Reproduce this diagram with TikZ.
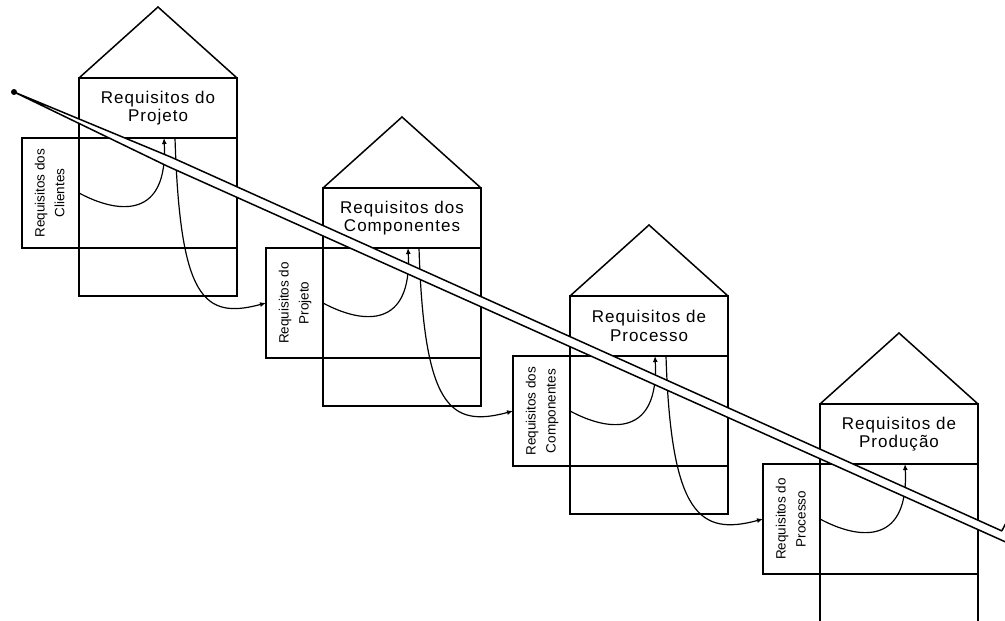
\documentclass[tikz,border=0pt]{standalone}
\usepackage{fontspec}
\setmainfont{Liberation Sans}
\newfontfamily\titlefont{Liberation Sans}[LetterSpace=6]
\usetikzlibrary{arrows.meta}

\tikzstyle{titlebox} = [draw, line width=1.5pt, minimum width=158pt, minimum height=60pt, inner sep=0pt, outer sep=0pt, align=center, font=\titlefont\fontsize{17}{18.5}\selectfont]
\tikzstyle{sidebox} = [draw, line width=1.5pt, fill=white, minimum width=57pt, minimum height=110pt, inner sep=0pt, outer sep=0pt, font=\fontsize{13.5}{20}\selectfont]
\tikzstyle{wall} = [line width=1.5pt, line join=miter]
\tikzstyle{flow} = [line width=1.2pt, -{Latex[length=6pt,width=5pt]}]
\tikzstyle{band} = [draw=black, fill=white, line width=1.5pt, line join=round]

\newcommand{\sidetext}[2]{\rotatebox{90}{\begin{tabular}{@{}c@{}}#1\\#2\end{tabular}}}

\begin{document}
\begin{tikzpicture}[x=1pt,y=-1pt]
      \useasboundingbox (0,0) rectangle (1005,621);
      \clip (0,0) rectangle (1005,621);
      % casa 1
      \node[titlebox] (t1) at (158,108) {Requisitos do\\Projeto};
      \node[sidebox] (s1) at (50.5,193) {\sidetext{Requisitos dos}{Clientes}};
      \draw[wall] (t1.south west) rectangle ++(158,158);
      \draw[wall] (s1.south east) -- ++(158,0);
      \draw[wall] (t1.north west) -- ++(79,-71) -- (t1.north east);
      % casa 2
      \node[titlebox] (t2) at (402,218) {Requisitos dos\\Componentes};
      \node[sidebox] (s2) at (294.5,303) {\sidetext{Requisitos do}{Projeto}};
      \draw[wall] (t2.south west) rectangle ++(158,158);
      \draw[wall] (s2.south east) -- ++(158,0);
      \draw[wall] (t2.north west) -- ++(79,-71) -- (t2.north east);
      % casa 3
      \node[titlebox] (t3) at (649,326) {Requisitos de\\Processo};
      \node[sidebox] (s3) at (541.5,411) {\sidetext{Requisitos dos}{Componentes}};
      \draw[wall] (t3.south west) rectangle ++(158,158);
      \draw[wall] (s3.south east) -- ++(158,0);
      \draw[wall] (t3.north west) -- ++(79,-71) -- (t3.north east);
      % casa 4
      \node[titlebox] (t4) at (899,434) {Requisitos de\\Produção};
      \node[sidebox] (s4) at (791.5,519) {\sidetext{Requisitos do}{Processo}};
      \draw[wall] (t4.south west) rectangle ++(158,158);
      \draw[wall] (s4.south east) -- ++(158,0);
      \draw[wall] (t4.north west) -- ++(79,-71) -- (t4.north east);
      % setas internas
      \draw[flow] (s1.east) .. controls +(41,22) and +(4,80) .. ([xshift=6pt]t1.south);
      \draw[flow] (s2.east) .. controls +(41,22) and +(4,80) .. ([xshift=6pt]t2.south);
      \draw[flow] (s3.east) .. controls +(41,22) and +(4,80) .. ([xshift=6pt]t3.south);
      \draw[flow] (s4.east) .. controls +(41,22) and +(4,80) .. ([xshift=6pt]t4.south);
      % setas entre casas
      \draw[flow] ([xshift=17pt]t1.south) .. controls +(5,160) and +(-63,17) .. (s2.west);
      \draw[flow] ([xshift=17pt]t2.south) .. controls +(5,160) and +(-63,17) .. (s3.west);
      \draw[flow] ([xshift=17pt]t3.south) .. controls +(5,160) and +(-63,17) .. (s4.west);
      % faixa
      \draw[band] (14,92) -- (171.2,157.2) -- (1001.8,530.9) -- (1006,523) -- (1030,520)
            -- (1030,556) -- (1028.2,552.1) -- (167,166) -- cycle;
      \fill (14,92) circle (3);
    \end{tikzpicture}
\end{document}
